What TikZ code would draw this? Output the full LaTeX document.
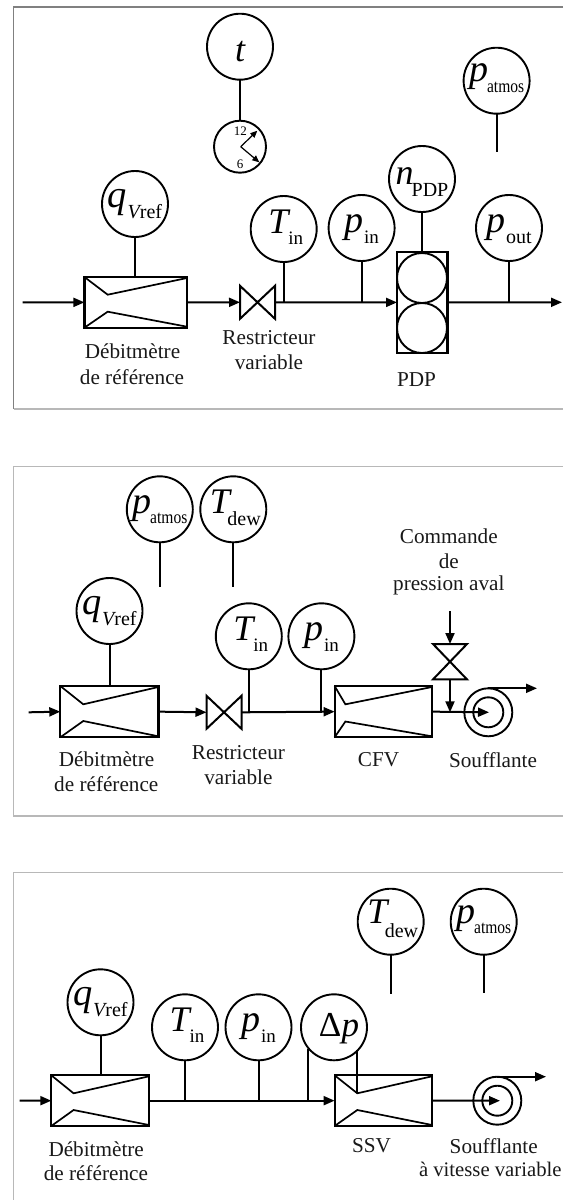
\documentclass[tikz,border=0pt]{standalone}
\usepackage{fontspec}
\setmainfont{Liberation Serif}
\usetikzlibrary{arrows.meta,calc}
\newcommand\lblf{\fontsize{21.2}{22}\selectfont}
% letter, letter size, subscript, sub size, drop, kern
\newcommand\gtxt[6]{\hbox{\fontsize{#2}{#2}\selectfont\itshape #1\kern#6pt\upshape\raisebox{-#5pt}{\fontsize{#4}{#4}\selectfont #3}}}
\newcommand\atmosw{\scalebox{0.84}[1]{atmos}}
% name, x, y, dy, content
\newcommand\gauge[5]{\node[gaugecirc] (#1) at (#2,#3) {};\node[gaugetxt] (#1t) at (#2,#3+#4) {#5};}
% name, left, right, top, bottom, neckx, topneck, botneck
\newcommand\meter[8]{%
  \node[meterbox,minimum width={(#3)-(#2)},minimum height={(#5)-(#4)}] (#1) at ({((#2)+(#3))/2},{((#4)+(#5))/2}) {};
  \draw[thinln] (#2,#4) -- (#6,#7) -- (#3,#4+1);
  \draw[thinln] (#2,#5) -- (#6,#8) -- (#3,#5-1);
}
% name, x, y, half-width, half-height : horizontal valve
\newcommand\hvalve[5]{%
  \node[anchorbox,minimum width={2*(#4)},minimum height={2*(#5)}] (#1) at (#2,#3) {};
  \draw[ln,line join=miter] (#1.north west) -- (#1.south east) -- (#1.north east) -- (#1.south west) -- cycle;
}
\newcommand\vvalve[5]{%
  \node[anchorbox,minimum width={2*(#4)},minimum height={2*(#5)}] (#1) at (#2,#3) {};
  \draw[ln,line join=miter] (#1.north west) -- (#1.north east) -- (#1.south west) -- (#1.south east) -- cycle;
}
% name, x, y
\newcommand\blower[3]{%
  \node[blowo] (#1) at (#2,#3) {};
  \node[blowi] (#1i) at (#2,#3) {};
}
\tikzset{
  x=1pt,y=-1pt,
  ln/.style={line width=2pt,black},
  thinln/.style={line width=1.7pt,black},
  arr/.style={ln,-{Triangle[length=11pt,width=9pt]},shorten >=0pt},
  gaugecirc/.style={circle,draw,line width=1.9pt,minimum size=66pt,inner sep=0pt,outer sep=0pt},
  gaugetxt/.style={anchor=base,inner sep=0pt,outer sep=0pt},
  meterbox/.style={rectangle,draw,line width=2.2pt,inner sep=0pt,outer sep=0pt},
  anchorbox/.style={rectangle,inner sep=0pt,outer sep=0pt},
  blowo/.style={circle,draw,line width=1.9pt,minimum size=48pt,inner sep=0pt,outer sep=0pt},
  blowi/.style={circle,draw,line width=1.9pt,minimum size=30pt,inner sep=0pt,outer sep=0pt},
  lbl/.style={font=\lblf,inner sep=0pt,outer sep=0pt,text=black!90},
  frameA/.style={line width=1.3pt,draw=black!50},
  frameB/.style={line width=1.3pt,draw=black!28},
}
\begin{document}
\begin{tikzpicture}
\useasboundingbox (0,0) rectangle (563,1200);
\fill[white] (0,0) rectangle (563,1200);
% ---------- panel 1 ----------
\draw[frameA] (563,7) -- (13.5,7) -- (13.5,409);
\draw[frameB] (13.5,409) -- (563,409);
\coordinate (aPipe) at (0,302.3);
\coordinate (aIn) at (22.6,302.3);
\coordinate (aOut) at (562,302.3);
\gauge{aT}{240}{46.7}{15}{\gtxt{t}{36}{}{19}{0}{0}}
\node[circle,draw,line width=1.9pt,minimum size=52pt,inner sep=0pt,outer sep=0pt] (aClock) at (240,146.7) {};
\draw[ln] (aT.south) -- (aClock.north);
\node[font=\fontsize{13}{13}\selectfont,inner sep=0pt] (a12) at (240.3,130.7) {12};
\node[font=\fontsize{13}{13}\selectfont,inner sep=0pt] (a6) at (240,164) {6};
\coordinate (aHub) at (240.7,146.7);
\coordinate (aH1) at (257.3,130.7);
\coordinate (aH2) at (259.3,162.3);
\draw[line width=1.2pt,-{Triangle[length=7pt,width=6pt]}] (aHub) -- (aH1);
\draw[line width=1.2pt,-{Triangle[length=7pt,width=6pt]}] (aHub) -- (aH2);
\gauge{aA}{496.6}{80.7}{1}{\gtxt{p}{38}{\atmosw}{18.5}{11}{-1}}
\coordinate (aAe) at (496.6,152);
\draw[ln] (aA.south) -- (aAe);
\gauge{aQ}{135}{204}{3.5}{\gtxt{q}{38.5}{\itshape V\upshape ref}{20}{11}{0.5}}
\gauge{aTi}{283.7}{229}{4}{\gtxt{\kern4pt T}{36}{in}{19}{11}{0}}
\gauge{aPi}{361.6}{228}{4}{\gtxt{p}{38}{in}{19}{11}{1}}
\gauge{aPo}{509}{228}{4}{\gtxt{p}{38}{out}{20}{11}{1}}
\gauge{aN}{422}{179}{5}{\gtxt{n}{36}{PDP}{20}{12}{-2}}
\meter{aM}{84.4}{187}{277}{327.7}{107.7}{294.7}{311.7}
\hvalve{aV}{257.5}{302.3}{17.5}{16.5}
\node[meterbox,minimum width=50.4pt,minimum height=100.7pt] (aPDP) at (422.2,302.4) {};
\node[circle,draw,line width=1.9pt,minimum size=50pt,inner sep=0pt] (aC1) at (422,278) {};
\node[circle,draw,line width=1.9pt,minimum size=50pt,inner sep=0pt] (aC2) at (422,328) {};
\draw[arr] (aIn) -- (aM.west);
\draw[arr] (aM.east) -- (aV.west);
\draw[arr] (aV.east) -- (aPDP.west);
\draw[arr] (aPDP.east) -- (aOut);
\draw[ln] (aQ.south) -- (aQ.south |- aM.north);
\draw[ln] (aTi.south) -- (aTi.south |- aPipe);
\draw[ln] (aPi.south) -- (aPi.south |- aPipe);
\draw[ln] (aPo.south) -- (aPo.south |- aPipe);
\draw[ln] (aN.south) -- (aN.south |- aPDP.north);
\node[lbl] (aL1) at (132.5,351.7) {Débitmètre};
\node[lbl] (aL2) at (132,376.7) {de référence};
\node[lbl] (aL3) at (269,337.7) {Restricteur};
\node[lbl] (aL4) at (269,362) {variable};
\node[lbl] (aL5) at (416.5,380) {PDP};
% ---------- panel 2 ----------
\draw[frameB] (563,466.7) -- (13.5,466.7) -- (13.5,816) -- (563,816);
\coordinate (bPipe) at (0,712.3);
\coordinate (bIn) at (28.7,712.3);
\gauge{bA}{159.8}{509.3}{4}{\gtxt{p}{38}{\atmosw}{18.5}{10.5}{-1}}
\gauge{bD}{233.3}{509.3}{4}{\gtxt{\kern4pt T}{36}{dew}{20}{12}{-2.5}}
\coordinate (bAe) at (159.8,586.7);
\coordinate (bDe) at (232.7,586.7);
\draw[ln] (bA.south) -- (bAe);
\draw[ln] (bD.south -| bDe) -- (bDe);
\gauge{bQ}{109.5}{611}{3.5}{\gtxt{q}{38.5}{\itshape V\upshape ref}{20}{11}{0.5}}
\gauge{bTi}{248.8}{636.3}{4}{\gtxt{\kern4pt T}{36}{in}{19}{11}{0}}
\gauge{bPi}{321.4}{636.3}{4}{\gtxt{p}{38}{in}{19}{11}{1}}
\meter{bM}{60.3}{158.4}{686}{737.3}{83.3}{704.3}{721}
\hvalve{bV}{224}{712.3}{17.5}{16.5}
\meter{bF}{334.6}{432}{686}{737.3}{345.4}{704.3}{721.5}
\vvalve{bW}{450}{661.7}{17}{17.7}
\blower{bB}{488.3}{712.3}
\coordinate (bCtl) at (450,611);
\coordinate (bJ) at (450,712.3);
\coordinate (bTip) at (489,712.3);
\coordinate (bOut) at (537,688.3);
\draw[arr] (bIn) -- (bM.west);
\draw[arr] (bM.east) -- (bV.west);
\draw[arr] (bV.east) -- (bF.west);
\draw[arr] (bF.east) -- (bTip);
\draw[arr] (bCtl) -- (bW.north);
\draw[arr] (bW.south) -- (bJ);
\draw[arr] (bB.north) -- (bOut);
\draw[ln] (bQ.south) -- (bQ.south |- bM.north);
\draw[ln] (bTi.south) -- (bTi.south |- bPipe);
\draw[ln] (bPi.south) -- (bPi.south |- bPipe);
\node[lbl] (bL1) at (106.6,759.3) {Débitmètre};
\node[lbl] (bL2) at (106.3,784) {de référence};
\node[lbl] (bL3) at (238.4,752.7) {Restricteur};
\node[lbl] (bL4) at (238.4,777.3) {variable};
\node[lbl] (bL5) at (378.5,760) {CFV};
\node[lbl] (bL6) at (493,760) {Soufflante};
\node[lbl] (bL7) at (448.8,536.7) {Commande};
\node[lbl] (bL8) at (448.8,561) {de};
\node[lbl] (bL9) at (448.8,585.7) {pression aval};
% ---------- panel 3 ----------
\draw[frameB] (563,872.7) -- (13.5,872.7) -- (13.5,1200);
\coordinate (cPipe) at (0,1100.7);
\coordinate (cIn) at (19.7,1100.7);
\gauge{cD}{390.7}{921.7}{2}{\gtxt{\kern4pt T}{36}{dew}{20}{13.5}{-2.5}}
\gauge{cA}{483.7}{921.7}{1.5}{\gtxt{p}{38}{\atmosw}{18.5}{10.5}{-1}}
\coordinate (cDe) at (390.7,994);
\coordinate (cAe) at (483.7,992.7);
\draw[ln] (cD.south) -- (cDe);
\draw[ln] (cA.south) -- (cAe);
\gauge{cQ}{100.5}{1002.3}{3.5}{\gtxt{q}{38.5}{\itshape V\upshape ref}{20}{11}{0.5}}
\gauge{cTi}{185}{1027.3}{4}{\gtxt{\kern4pt T}{36}{in}{19}{11}{0}}
\gauge{cPi}{258.5}{1027.3}{4}{\gtxt{p}{38}{in}{19}{11}{1}}
\node[gaugecirc] (cDp) at (334,1027.3) {};
\node[gaugetxt] (cDpt) at (339,1036.7) {\fontsize{35}{35}\selectfont Δ\itshape p};
\meter{cM}{51.3}{149}{1075.3}{1126}{73.6}{1093.3}{1110}
\meter{cS}{334.6}{432}{1075.3}{1126}{357.3}{1093.3}{1110}
\blower{cB}{497.3}{1100.7}
\coordinate (cTip) at (500,1100.7);
\coordinate (cOut) at (546,1076.7);
\coordinate (cDl) at (307.7,1049);
\coordinate (cDr) at (357.3,1050);
\coordinate (cNeck) at (357.3,1093.3);
\draw[arr] (cIn) -- (cM.west);
\draw[arr] (cM.east) -- (cS.west);
\draw[arr] (cS.east) -- (cTip);
\draw[arr] (cB.north) -- (cOut);
\draw[ln] (cQ.south) -- (cQ.south |- cM.north);
\draw[ln] (cTi.south) -- (cTi.south |- cPipe);
\draw[ln] (cPi.south) -- (cPi.south |- cPipe);
\draw[ln] (cDl) -- (cDl |- cPipe);
\draw[ln] (cDr) -- (cNeck);
\node[lbl] (cL1) at (96.2,1149) {Débitmètre};
\node[lbl] (cL2) at (95.9,1173.3) {de référence};
\node[lbl] (cL3) at (371.6,1146) {SSV};
\node[lbl] (cL4) at (493.7,1146) {Soufflante};
\node[inner sep=0pt,outer sep=0pt,text=black!90,font=\fontsize{20.7}{22}\selectfont,anchor=west] (cL5) at (419,1169.3) {à vitesse variable};
\end{tikzpicture}
\end{document}
